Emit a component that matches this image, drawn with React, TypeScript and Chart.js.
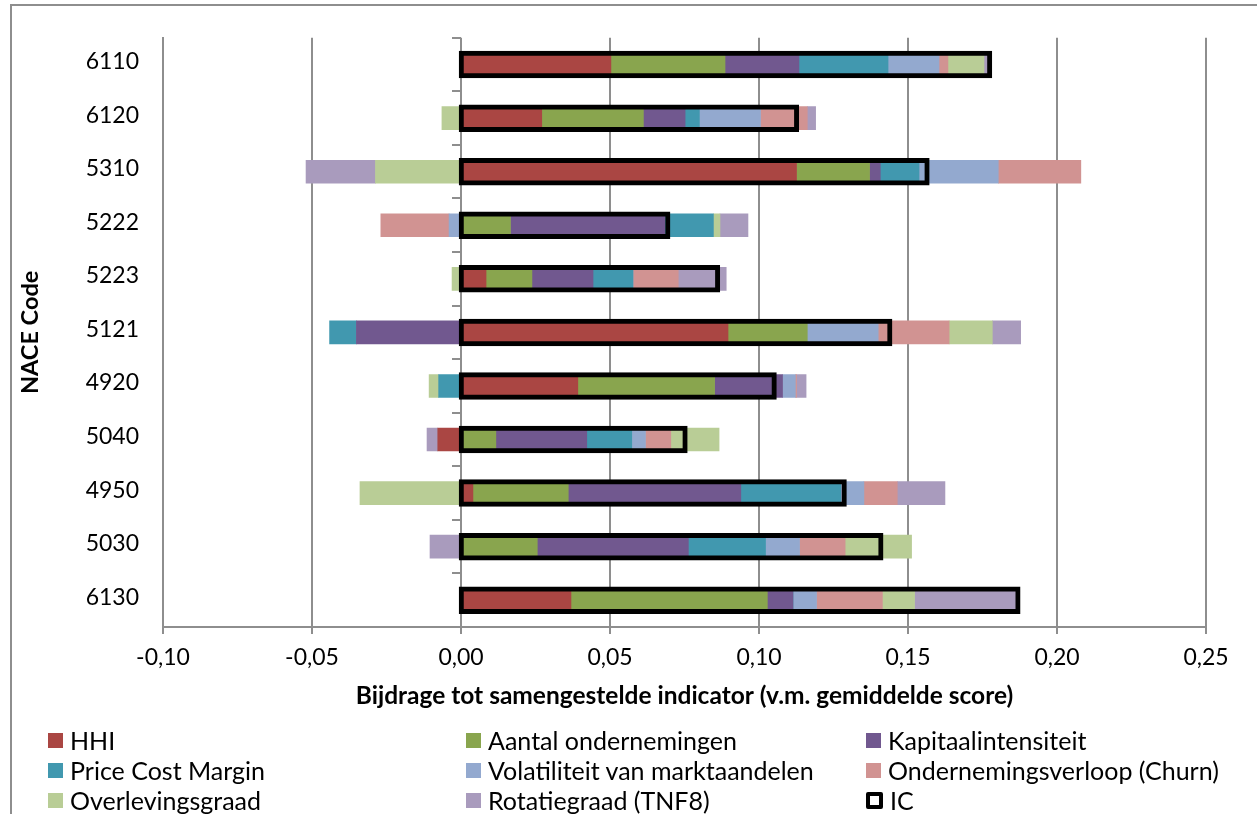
import React, { useEffect, useRef } from 'react';
import { Chart, registerables } from 'chart.js';

Chart.register(...registerables);

// ---- data (top-to-bottom category order) ----
const categories = ['6110', '6120', '5310', '5222', '5223', '5121', '4920', '5040', '4950', '5030', '6130'];

const hhi = [0.0503, 0.0271, 0.1126, 0, 0.0084, 0.0896, 0.0392, -0.0078, 0.0040, 0, 0.0369];
const aantal = [0.0383, 0.0341, 0.0245, 0.0166, 0.0154, 0.0266, 0.0459, 0.0117, 0.0320, 0.0256, 0.0659];
const kapitaal = [0.0248, 0.0140, 0.0036, 0.0518, 0.0205, -0.0351, 0.0228, 0.0305, 0.0579, 0.0507, 0.0086];
const pcm = [0.0299, 0.0048, 0.0130, 0.0163, 0.0134, -0.0090, -0.0075, 0.0151, 0.0335, 0.0259, 0];
const volatiliteit = [0.0171, 0.0205, 0.0266, -0.0040, 0, 0.0238, 0.0043, 0.0046, 0.0078, 0.0114, 0.0079];
const churn = [0.0030, 0.0157, 0.0277, -0.0229, 0.0152, 0.0238, 0.0004, 0.0085, 0.0112, 0.0153, 0.0221];
const overleving = [0.0121, -0.0064, -0.0287, 0.0022, -0.0030, 0.0145, -0.0032, 0.0162, -0.0339, 0.0223, 0.0108];
const rotatie = [0.0019, 0.0028, -0.0233, 0.0094, 0.0161, 0.0095, 0.0032, -0.0036, 0.0160, -0.0104, 0.0345];
const ic = [0.1775, 0.1127, 0.1565, 0.0695, 0.0862, 0.1440, 0.1052, 0.0753, 0.1287, 0.1410, 0.1870];

const seriesNames = [
  'HHI',
  'Aantal ondernemingen',
  'Kapitaalintensiteit',
  'Price Cost Margin',
  'Volatiliteit van marktaandelen',
  'Ondernemingsverloop (Churn)',
  'Overlevingsgraad',
  'Rotatiegraad (TNF8)',
];
const seriesValues = [hhi, aantal, kapitaal, pcm, volatiliteit, churn, overleving, rotatie];
const seriesColors = ['#AA4643', '#89A54E', '#71588F', '#4198AF', '#93A9CF', '#D19392', '#B9CD96', '#A99BBD'];
const icName = 'IC';

const xMin = -0.1;
const xMax = 0.25;
const xStep = 0.05;
const xTickLabels = ['-0,10', '-0,05', '0,00', '0,05', '0,10', '0,15', '0,20', '0,25'];

const xTitle = 'Bijdrage tot samengestelde indicator (v.m. gemiddelde score)';
const yTitle = 'NACE Code';

const FONT = 'Lato, "Open Sans", sans-serif';
const GRID = '#8e8e8e';

const zeroAxisTicks = {
  id: 'zeroAxisTicks',
  beforeDatasetsDraw(chart: any) {
    const { ctx, chartArea, scales } = chart;
    const x0 = Math.round(scales.x.getPixelForValue(0));
    const n = categories.length;
    const step = (chartArea.bottom - chartArea.top) / n;
    ctx.save();
    ctx.strokeStyle = GRID;
    ctx.lineWidth = 2;
    for (let i = 0; i <= n; i++) {
      const y = Math.round(chartArea.top + i * step);
      ctx.beginPath();
      ctx.moveTo(x0 - 9, y);
      ctx.lineTo(x0, y);
      ctx.stroke();
    }
    ctx.restore();
  },
};

export default function App() {
  const canvasRef = useRef<HTMLCanvasElement | null>(null);

  useEffect(() => {
    const canvas = canvasRef.current;
    if (!canvas) return;
    const datasets: any[] = seriesNames.map((name, i) => ({
      label: name,
      data: seriesValues[i],
      backgroundColor: seriesColors[i],
      borderWidth: 0,
      stack: 'main',
      barThickness: 23,
    }));
    datasets.push({
      label: icName,
      data: ic,
      backgroundColor: 'rgba(0,0,0,0)',
      borderColor: '#000000',
      borderWidth: 0.5,
      inflateAmount: 2.25,
      borderSkipped: false,
      stack: 'ic',
      grouped: false,
      barThickness: 23,
      order: -1,
    });

    const chart = new Chart(canvas, {
      type: 'bar',
      data: { labels: categories, datasets },
      plugins: [zeroAxisTicks],
      options: {
        indexAxis: 'y',
        responsive: false,
        animation: false,
        devicePixelRatio: 1,
        layout: { padding: { left: 11, top: 35, right: 51, bottom: 97 } },
        plugins: {
          legend: { display: false },
          tooltip: { enabled: false },
        },
        scales: {
          x: {
            stacked: true,
            min: xMin,
            max: xMax,
            ticks: {
              stepSize: xStep,
              color: '#000',
              font: { family: FONT, size: 23 },
              padding: 10,
              callback: (_v: any, index: number) => xTickLabels[index],
            },
            grid: { color: GRID, lineWidth: 2, tickLength: 7, drawTicks: true },
            border: { display: true, color: GRID, width: 2 },
            title: {
              display: true,
              text: xTitle,
              color: '#000',
              font: { family: FONT, size: 24.5, weight: 'bold' },
              padding: { top: 0, bottom: 6 },
            },
            afterFit: (s: any) => {
              s.height = 90;
            },
          },
          y: {
            stacked: true,
            grid: { display: false, drawTicks: false },
            border: { display: true, color: GRID, width: 2 },
            ticks: {
              color: '#000',
              font: { family: FONT, size: 23 },
              padding: 24,
              labelOffset: -3,
            },
            title: {
              display: true,
              text: yTitle,
              color: '#000',
              font: { family: FONT, size: 23.5, weight: 'bold' },
              padding: { top: 5, bottom: 0 },
            },
            afterFit: (s: any) => {
              s.width = 152;
            },
          },
        },
      } as any,
    });
    return () => chart.destroy();
  }, []);

  const legendItems = [
    ...seriesNames.map((n, i) => ({ name: n, color: seriesColors[i], outline: false })),
    { name: icName, color: '#fff', outline: true },
  ];
  const colX = [48, 466, 866];
  const rowY = [740, 770, 800];

  return (
    <div style={{ position: 'fixed', left: 0, top: 0, width: 1257, height: 814, overflow: 'hidden', background: '#fff' }}>
      <div
        style={{
          position: 'absolute',
          left: 10,
          top: 4,
          width: 1400,
          height: 1000,
          borderLeft: `2px solid ${GRID}`,
          borderTop: `2px solid ${GRID}`,
        }}
      />
      <canvas ref={canvasRef} width={1257} height={814} style={{ position: 'absolute', left: 0, top: 0 }} />
      {legendItems.map((it, i) => {
        const c = i % 3;
        const r = Math.floor(i / 3);
        return (
          <div
            key={it.name}
            style={{
              position: 'absolute',
              left: colX[c],
              top: rowY[r] - 15,
              height: 30,
              display: 'flex',
              alignItems: 'center',
              fontFamily: FONT,
              fontSize: 25,
              color: '#000',
              whiteSpace: 'nowrap',
            }}
          >
            <span
              style={{
                display: 'inline-block',
                flex: 'none',
                width: it.outline ? 9 : 15,
                height: it.outline ? 9 : 15,
                background: it.color,
                border: it.outline ? '4px solid #000' : 'none',
                borderRadius: it.outline ? 2 : 0,
                marginRight: 7,
              }}
            />
            <span>{it.name}</span>
          </div>
        );
      })}
    </div>
  );
}
